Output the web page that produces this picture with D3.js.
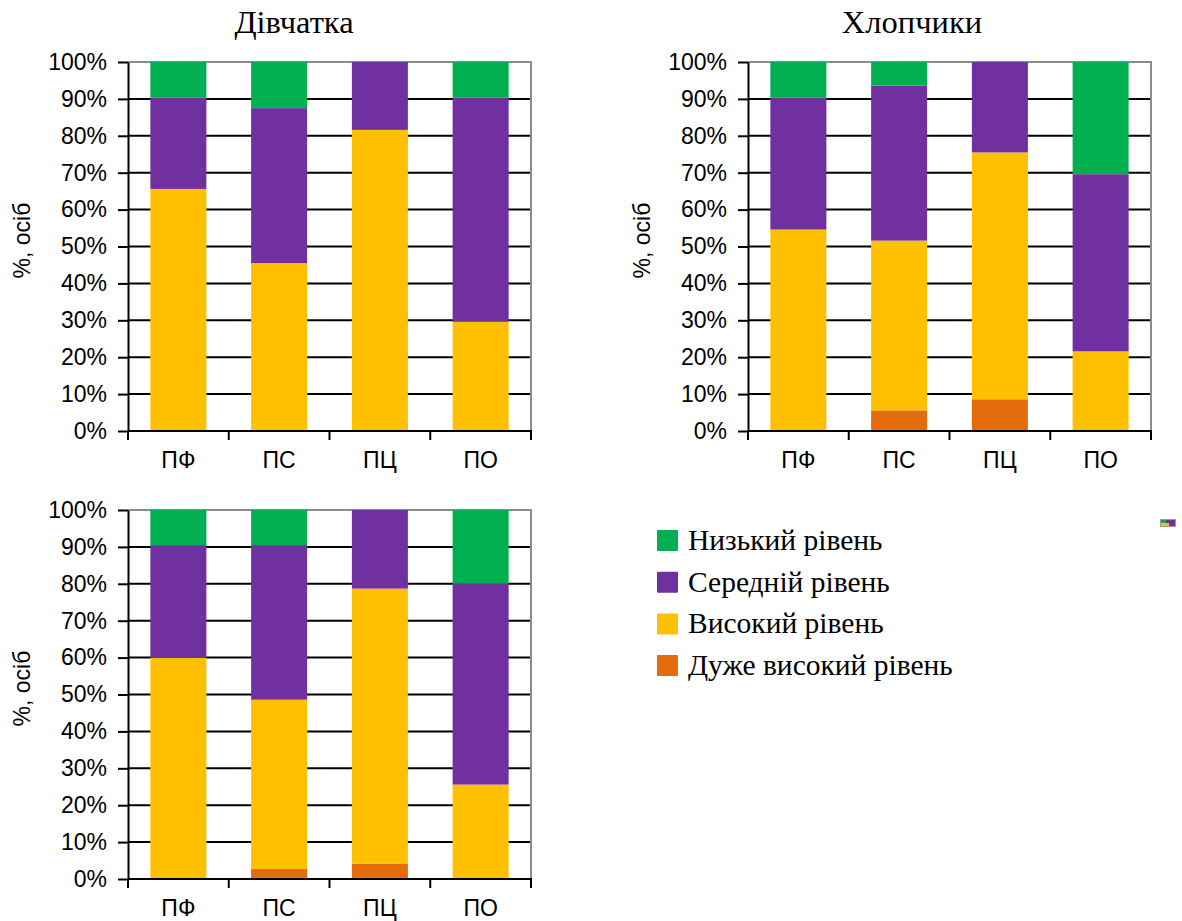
<!DOCTYPE html>
<html lang="uk">
<head>
<meta charset="utf-8">
<script src="https://cdn.jsdelivr.net/npm/d3@7"></script>
<style>
  html, body { margin: 0; padding: 0; background: #fff; }
  svg { display: block; }
  .tick-label { font-family: "Liberation Sans", Arial, sans-serif; font-size: 23px; fill: #000; }
  .panel-title { font-family: "Liberation Serif", "Times New Roman", serif; font-size: 32.5px; fill: #000; }
  .legend-text { font-family: "Liberation Serif", "Times New Roman", serif; font-size: 29.5px; fill: #000; }
</style>
</head>
<body>
<svg id="chart" width="1182" height="921"></svg>
<script>
// Categories and stacked levels
const categories = ["ПФ", "ПС", "ПЦ", "ПО"];
const levelKeys = ["veryHigh", "high", "medium", "low"];
const levelNames = ["Дуже високий рівень", "Високий рівень", "Середній рівень", "Низький рівень"];
const levelColors = ["#E46C0A", "#FFC000", "#7030A0", "#00B050"];
const yTicks = [0, 10, 20, 30, 40, 50, 60, 70, 80, 90, 100];

// Дівчатка (%)
const girlsVeryHigh = [0, 0, 0, 0];
const girlsHigh = [65.6, 45.5, 81.6, 29.6];
const girlsMedium = [24.8, 42.0, 18.4, 60.8];
const girlsLow = [9.6, 12.5, 0, 9.6];

// Хлопчики (%)
const boysVeryHigh = [0, 5.6, 8.6, 0];
const boysHigh = [54.6, 46.0, 66.9, 21.6];
const boysMedium = [35.8, 42.0, 24.5, 48.0];
const boysLow = [9.6, 6.4, 0, 30.4];

// Усі учні (%)
const allVeryHigh = [0, 2.7, 4.1, 0];
const allHigh = [60.0, 45.9, 74.6, 25.6];
const allMedium = [30.5, 41.9, 21.3, 54.4];
const allLow = [9.5, 9.5, 0, 20.0];

function toRows(vh, h, m, l) {
  return categories.map((c, i) => ({ cat: c, veryHigh: vh[i], high: h[i], medium: m[i], low: l[i] }));
}

const svg = d3.select("#chart");

// Plot area inside each panel
const plot = { left: 128, right: 531, top: 62, bottom: 431 };

function drawPanel(ox, oy, rows, title, titleX) {
  const g = svg.append("g").attr("transform", `translate(${ox},${oy})`);

  const x = d3.scaleBand().domain(categories)
    .range([plot.left, plot.right])
    .paddingInner(0.444).paddingOuter(0.222);
  const y = d3.scaleLinear().domain([0, 100]).range([plot.bottom, plot.top]);

  // Horizontal gridlines
  g.append("g").selectAll("line")
    .data(yTicks.filter(t => t > 0 && t < 100))
    .join("line")
    .attr("x1", plot.left).attr("x2", plot.right)
    .attr("y1", d => y(d)).attr("y2", d => y(d))
    .attr("stroke", "#000").attr("stroke-width", 2);

  // Top and right frame
  g.append("path")
    .attr("d", `M${plot.left},${y(100)}H${plot.right}V${plot.bottom}`)
    .attr("fill", "none").attr("stroke", "#8c8c8c").attr("stroke-width", 2);

  // Stacked bars
  const series = d3.stack().keys(levelKeys)(rows);
  g.append("g").selectAll("g")
    .data(series)
    .join("g")
    .attr("fill", (d, i) => levelColors[i])
    .selectAll("rect")
    .data(d => d)
    .join("rect")
    .attr("x", d => x(d.data.cat))
    .attr("width", x.bandwidth())
    .attr("y", d => y(d[1]))
    .attr("height", d => y(d[0]) - y(d[1]));

  // Y axis
  const yAxis = d3.axisLeft(y).tickValues(yTicks).tickFormat(d => d + "%")
    .tickSize(10).tickSizeOuter(0).tickPadding(11);
  const ya = g.append("g").attr("transform", `translate(${plot.left},0)`).call(yAxis);
  ya.select(".domain").attr("stroke", "#000").attr("stroke-width", 2);
  ya.selectAll(".tick line").attr("stroke", "#000").attr("stroke-width", 2);
  ya.selectAll(".tick text").attr("class", "tick-label").attr("font-size", null).attr("font-family", null);

  // X axis with ticks at category boundaries
  const boundaries = d3.range(categories.length + 1)
    .map(i => plot.left + i * (plot.right - plot.left) / categories.length);
  g.append("line")
    .attr("x1", plot.left).attr("x2", plot.right + 1)
    .attr("y1", plot.bottom).attr("y2", plot.bottom)
    .attr("stroke", "#000").attr("stroke-width", 2);
  g.append("g").selectAll("line").data(boundaries).join("line")
    .attr("x1", d => d).attr("x2", d => d)
    .attr("y1", plot.bottom).attr("y2", plot.bottom + 9)
    .attr("stroke", "#000").attr("stroke-width", 2);
  g.append("g").selectAll("text").data(categories).join("text")
    .attr("class", "tick-label")
    .attr("x", d => x(d) + x.bandwidth() / 2)
    .attr("y", plot.bottom + 37)
    .attr("text-anchor", "middle")
    .text(d => d);

  // Y axis title
  g.append("text")
    .attr("class", "tick-label")
    .attr("transform", `translate(30,${(plot.top + plot.bottom) / 2 - 6}) rotate(-90)`)
    .attr("text-anchor", "middle")
    .attr("font-size", 22)
    .text("%, осіб");

  if (title) {
    g.append("text")
      .attr("class", "panel-title")
      .attr("x", titleX).attr("y", 33)
      .attr("text-anchor", "middle")
      .text(title);
  }
}

drawPanel(0, 0, toRows(girlsVeryHigh, girlsHigh, girlsMedium, girlsLow), "Дівчатка", 294);
drawPanel(620, 0, toRows(boysVeryHigh, boysHigh, boysMedium, boysLow), "Хлопчики", 292);
drawPanel(0, 448, toRows(allVeryHigh, allHigh, allMedium, allLow), null, 0);

// Legend (top level first)
const legendOrder = [3, 2, 1, 0];
const legend = svg.append("g").attr("transform", "translate(657,530)");
const items = legend.selectAll("g").data(legendOrder).join("g")
  .attr("transform", (d, i) => `translate(0,${i * 41.7})`);
items.append("rect").attr("width", 21).attr("height", 21).attr("rx", 1)
  .attr("fill", d => levelColors[d]);
items.append("text").attr("class", "legend-text")
  .attr("x", 31).attr("y", 20)
  .text(d => levelNames[d]);

// Small chart icon at the right edge
const icon = svg.append("g").attr("transform", "translate(1160,519)");
icon.append("rect").attr("width", 16).attr("height", 8).attr("fill", "#9a9a9a");
icon.append("rect").attr("x", 1).attr("y", 1).attr("width", 5).attr("height", 3).attr("fill", "#00B050");
icon.append("rect").attr("x", 6).attr("y", 1).attr("width", 9).attr("height", 3).attr("fill", "#7030A0");
icon.append("rect").attr("x", 1).attr("y", 4).attr("width", 8).attr("height", 3).attr("fill", "#FFC000");
icon.append("rect").attr("x", 9).attr("y", 4).attr("width", 6).attr("height", 3).attr("fill", "#7030A0");
</script>
</body>
</html>
